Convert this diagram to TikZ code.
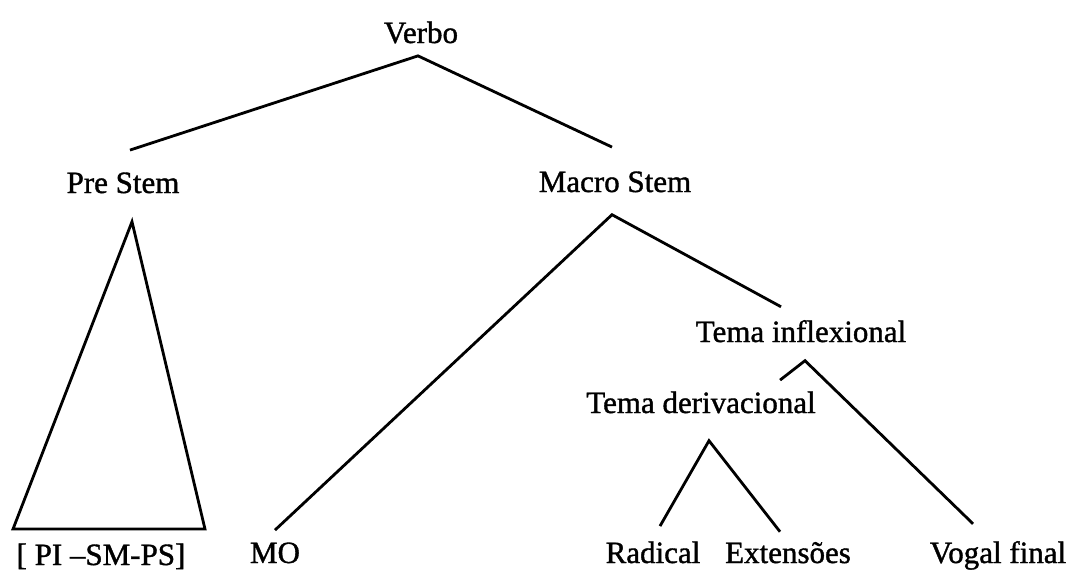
\documentclass[tikz,border=0pt]{standalone}
\usepackage{fontspec}
\setmainfont{Liberation Serif}[BoldFont=Liberation Serif, BoldFeatures={FakeBold=1.2}]
\usepackage{tikz}

\begin{document}
\begin{tikzpicture}[x=1pt,
					y=-1pt,
					line width=2.8pt,
					line join=miter,
					lbl/.style={anchor=base, inner sep=0pt, font=\fontsize{31}{37}\selectfont\bfseries}]

	\useasboundingbox (0,0) rectangle (1068,570);

	\node[lbl] (verbo) at (421,43)  {Verbo};
	\node[lbl] (pre)   at (123,193) {Pre Stem};
	\node[lbl] (macro) at (615,192) {Macro Stem};
	\node[lbl] (ps)    at (101,565) {[ PI --SM-PS]};
	\node[lbl] (mo)    at (275,563) {MO};
	\node[lbl] (ti)    at (801,342) {Tema inflexional};
	\node[lbl] (td)    at (701,413) {Tema derivacional};
	\node[lbl] (rad)   at (653,563) {Radical};
	\node[lbl] (ext)   at (788,563) {Extensões};
	\node[lbl] (vf)    at (998,563) {Vogal final};

	\draw	([xshift=7,yshift=21]pre.north) -- ([xshift=-3,yshift=-11]verbo.south)
			-- ([xshift=-3,yshift=23]macro.north);
	\draw	([xshift=-88,yshift=13]ps.north) -- ([xshift=9,yshift=-27]pre.south)
			-- ([xshift=104,yshift=13]ps.north) -- cycle;
	\draw	([yshift=11]mo.north) -- ([xshift=-3,yshift=-21]macro.south)
			-- ([xshift=-20,yshift=12]ti.north);
	\draw	([xshift=-37,yshift=10]td.north east) -- ([xshift=4,yshift=-17]ti.south)
			-- ([xshift=-25,yshift=16]vf.north);
	\draw	([xshift=7,yshift=14]rad.north) -- ([xshift=8,yshift=-26]td.south)
			-- ([xshift=-8,yshift=9]ext.north);
\end{tikzpicture}
\end{document}
